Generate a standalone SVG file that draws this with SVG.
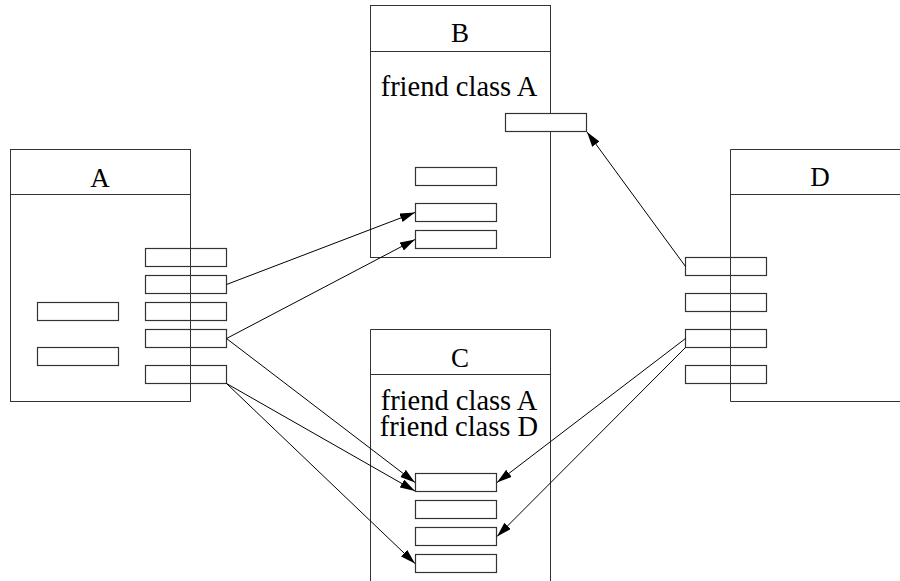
<svg xmlns="http://www.w3.org/2000/svg" width="900" height="581" viewBox="0 0 900 581">
<defs>
<style>
.frame{fill:#fff;stroke:#333;stroke-width:1}
.slot{fill:#fff;stroke:#333;stroke-width:1.2}
.sep{stroke:#333;stroke-width:1}
.title{font-family:"Liberation Serif","Times New Roman",serif;font-size:27px;fill:#000;text-anchor:middle}
.body{font-family:"Liberation Serif","Times New Roman",serif;font-size:28.5px;fill:#000;text-anchor:middle}
.conn line{stroke:#000;stroke-width:1;marker-end:url(#ah)}
</style>
<marker id="ah" markerUnits="userSpaceOnUse" markerWidth="16" markerHeight="10" refX="15" refY="4.5" orient="auto">
<path d="M0,0 L15,4.5 L0,9 z" fill="#000"/>
</marker>
</defs>
<rect width="900" height="581" fill="#fff"/>

<g id="B">
<rect class="frame" x="370.5" y="5.5" width="180" height="252"/>
<line class="sep" x1="370.5" y1="51.5" x2="550.5" y2="51.5"/>
<text class="title" x="460" y="42">B</text>
<text class="body" x="459" y="96">friend class A</text>
<rect class="slot" x="505.5" y="113.5" width="81" height="18"/>
<rect class="slot" x="415.5" y="167.5" width="81" height="18"/>
<rect class="slot" x="415.5" y="203.5" width="81" height="18"/>
<rect class="slot" x="415.5" y="230.5" width="81" height="18"/>
</g>

<g id="C">
<path class="frame" d="M370.5,590 L370.5,329.5 L550.5,329.5 L550.5,590"/>
<line class="sep" x1="370.5" y1="374.5" x2="550.5" y2="374.5"/>
<text class="title" x="460" y="367">C</text>
<text class="body" x="459" y="410">friend class A</text>
<text class="body" x="459" y="436">friend class D</text>
<rect class="slot" x="415.5" y="473.5" width="81" height="18"/>
<rect class="slot" x="415.5" y="500.5" width="81" height="18"/>
<rect class="slot" x="415.5" y="527.5" width="81" height="18"/>
<rect class="slot" x="415.5" y="554.5" width="81" height="18"/>
</g>

<g id="A">
<rect class="frame" x="10.5" y="149.5" width="180" height="252"/>
<line class="sep" x1="10.5" y1="194.5" x2="190.5" y2="194.5"/>
<text class="title" x="100" y="187">A</text>
<rect class="slot" x="37.5" y="302.5" width="81" height="18"/>
<rect class="slot" x="37.5" y="347.5" width="81" height="18"/>
<rect class="slot" x="145.5" y="248.5" width="81" height="18"/>
<rect class="slot" x="145.5" y="275.5" width="81" height="18"/>
<rect class="slot" x="145.5" y="302.5" width="81" height="18"/>
<rect class="slot" x="145.5" y="329.5" width="81" height="18"/>
<rect class="slot" x="145.5" y="365.5" width="81" height="18"/>
<line class="sep" x1="190.5" y1="248.5" x2="190.5" y2="383.5"/>
</g>

<g id="D">
<path class="frame" d="M910,149.5 L730.5,149.5 L730.5,401.5 L910,401.5"/>
<line class="sep" x1="730.5" y1="194.5" x2="910" y2="194.5"/>
<text class="title" x="820" y="186">D</text>
<rect class="slot" x="685.5" y="257.5" width="81" height="18"/>
<rect class="slot" x="685.5" y="293.5" width="81" height="18"/>
<rect class="slot" x="685.5" y="329.5" width="81" height="18"/>
<rect class="slot" x="685.5" y="365.5" width="81" height="18"/>
<line class="sep" x1="730.5" y1="257.5" x2="730.5" y2="383.5"/>
</g>

<g id="connectors" class="conn">
<line x1="226.5" y1="284.5" x2="415" y2="212.5"/>
<line x1="226.5" y1="338.5" x2="415" y2="239.5"/>
<line x1="226.5" y1="338.5" x2="415" y2="482.5"/>
<line x1="226.5" y1="383.5" x2="415" y2="491"/>
<line x1="226.5" y1="383.5" x2="415" y2="563.5"/>
<line x1="685.5" y1="266.5" x2="587" y2="132"/>
<line x1="685.5" y1="338.5" x2="497" y2="482.5"/>
<line x1="685.5" y1="347.5" x2="497" y2="536.5"/>
</g>
</svg>
